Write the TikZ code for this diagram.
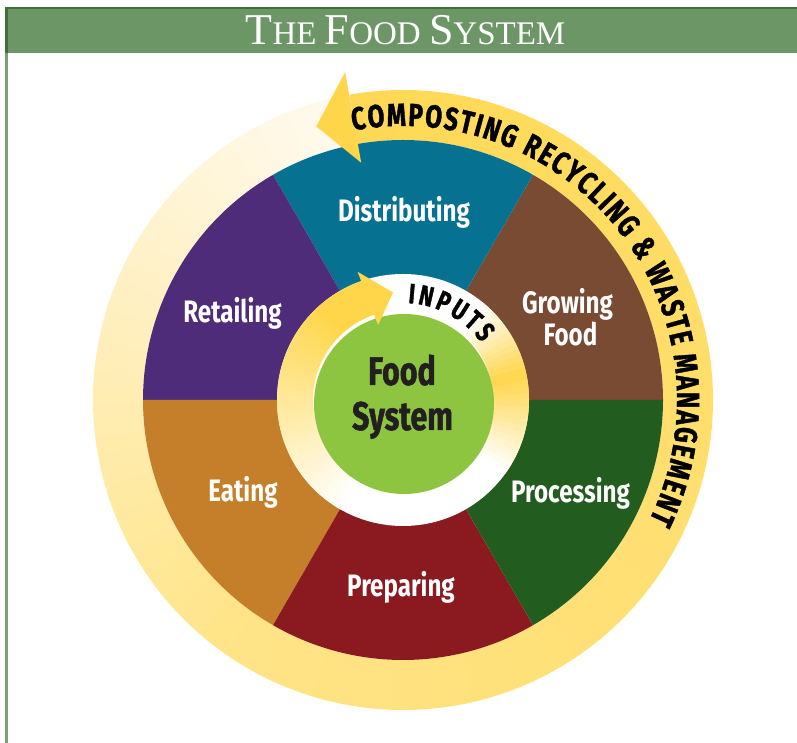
\documentclass[tikz,border=0pt]{standalone}
\usepackage{fontspec}
\usetikzlibrary{calc,decorations.text}

\newfontfamily\labelfont[FakeStretch=0.78]{Fira Sans}
\newfontfamily\ringfont[FakeStretch=0.76,FakeBold=1.2]{Fira Sans}
\newfontfamily\titlefont{Liberation Serif}
\newcommand\titlebig[1]{{\fontsize{44}{44}\selectfont #1}}

\definecolor{barGreen}{HTML}{6D9667}
\definecolor{barEdge}{HTML}{3D7138}
\definecolor{sideLine}{HTML}{7BA076}
\definecolor{ringYellow}{HTML}{FFD955}
\definecolor{ringSoft}{HTML}{FFE488}
\definecolor{ringCream}{HTML}{FFFAF0}
\definecolor{arrowYellow}{HTML}{FFD64A}
\definecolor{growBrown}{HTML}{784B32}
\definecolor{distTeal}{HTML}{067190}
\definecolor{retailPurple}{HTML}{4E2C79}
\definecolor{eatOrange}{HTML}{C57E2A}
\definecolor{prepRed}{HTML}{8A1A20}
\definecolor{procGreen}{HTML}{225D1F}
\definecolor{coreGreen}{HTML}{8DC540}
\definecolor{coreText}{HTML}{231F20}

\begin{document}
\begin{tikzpicture}[x=1pt,y=1pt,
        seglabel/.style={text=white,anchor=base,font=\labelfont\bfseries\fontsize{31}{31}\selectfont},
        corelabel/.style={text=coreText,anchor=base,font=\ringfont\bfseries\fontsize{40}{40}\selectfont}]
    \useasboundingbox (0,0) rectangle (797,743);
    \coordinate (C) at (403,343);
    % header bar
    \fill[barGreen] (5,690) rectangle (797,736);
    \fill[barEdge] (5,733.5) rectangle (797,736);
    \fill[barEdge] (5,690) rectangle (8,736);
    \fill[sideLine] (5,0) rectangle (7.5,690);
    \node[anchor=base,text=white,font=\titlefont\fontsize{33}{33}\selectfont] (title) at (405.5,698)
        {\titlebig{T}HE \titlebig{F}OOD \titlebig{S}YSTEM};
    % outer ring, fading towards its tail
    \foreach \i in {0,...,118}
    {
        \pgfmathsetmacro\a{100-3*\i}
        \pgfmathsetmacro\b{\a-3.4}
        \pgfmathsetmacro\q{max(0,100-\i*100/75)}
        \pgfmathsetmacro\p{\i<75 ? 100 : max(0,100-(\i-75)*100/44)}
        \draw[line width=50pt,ringYellow!\q!ringSoft!\p!ringCream] ($(C)+(\a:285)$) arc (\a:\b:285);
    }
    % the six stages
    \foreach \s/\e/\col in {0/60/growBrown,60/120/distTeal,120/180/retailPurple,180/240/eatOrange,240/300/prepRed,300/360/procGreen}
    {
        \fill[\col] (C) -- ($(C)+(\s:260)$) arc (\s:\e:260) -- cycle;
    }
    \fill[arrowYellow] ($(C)+(100:333)$) -- ($(C)+(107.6:287)$) -- ($(C)+(100:241)$) -- cycle;
    \path[decorate,decoration={text along path,text align=fit to path,
        text={|\ringfont\bfseries\fontsize{32}{32}\selectfont|COMPOSTING RECYCLING {\&} WASTE MANAGEMENT}}]
        ($(C)+(100.5:274)$) arc (100.5:-26:274);
    % inputs ring
    \fill[white] (C) circle (126);
    \foreach \a in {109,112,...,238}
    {
        \pgfmathsetmacro\p{min(100,(240-\a)*100/110)}
        \pgfmathsetmacro\b{\a+3.4}
        \draw[line width=36pt,arrowYellow!\p!white] ($(C)+(\a:108)$) arc (\a:\b:108);
    }
    \foreach \a in {-36,-33,...,48}
    {
        \pgfmathsetmacro\m{\a+1.5}
        \pgfmathsetmacro\p{\m>12 ? max(0,100-(\m-12)*100/38) : max(0,100-(12-\m)*100/48)}
        \pgfmathsetmacro\b{\a+3.4}
        \draw[line width=36pt,arrowYellow!\p!white] ($(C)+(\a:108)$) arc (\a:\b:108);
    }
    \fill[coreGreen] (404,339) circle (90);
    \fill[arrowYellow] ($(C)+(109.5:136)$) -- ($(C)+(95.3:108)$) -- ($(C)+(108.4:79)$) -- cycle;
    \path[decorate,decoration={text along path,text align=fit to path,
        text={|\ringfont\bfseries\fontsize{28}{28}\selectfont|INPUTS}}]
        ($(C)+(87:97)$) arc (87:36:97);
    % labels
    \node[seglabel] (dist) at (404,521) {Distributing};
    \node[seglabel] (grow) at (567.5,429) {Growing};
    \node[seglabel] (growb) at (570.5,397) {Food};
    \node[seglabel] (retail) at (232.5,420) {Retailing};
    \node[seglabel] (eat) at (243,241) {Eating};
    \node[seglabel] (prep) at (401,146) {Preparing};
    \node[seglabel] (proc) at (570.5,240) {Processing};
    \node[corelabel] (core) at (402,358) {Food};
    \node[corelabel] (coreb) at (402.5,313) {System};
\end{tikzpicture}
\end{document}
